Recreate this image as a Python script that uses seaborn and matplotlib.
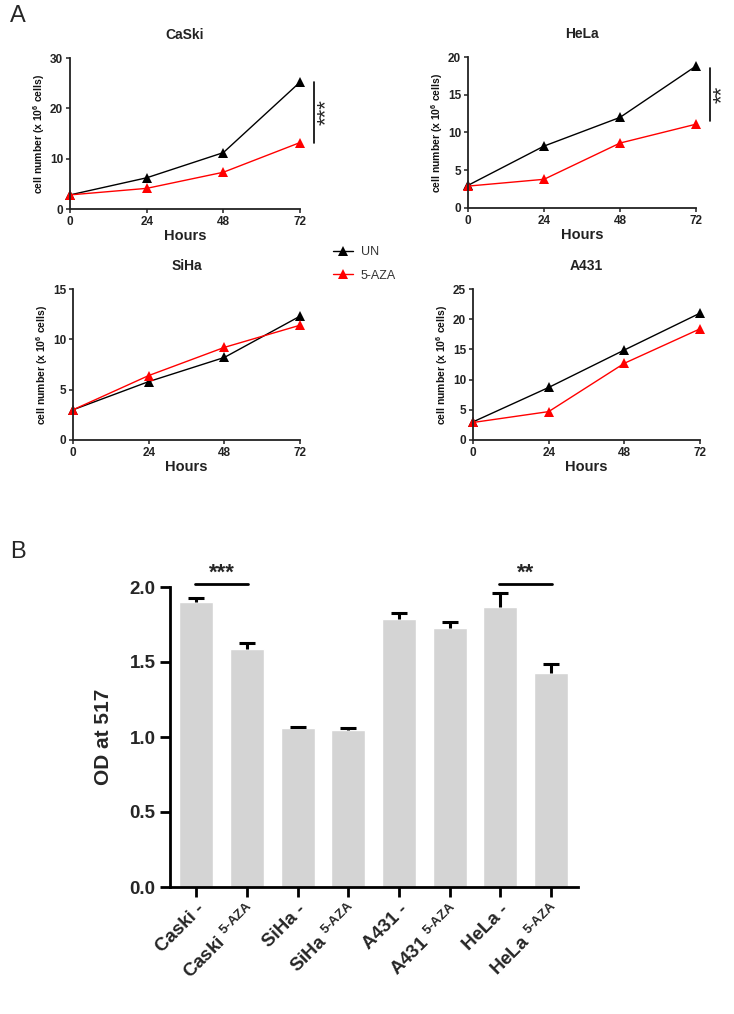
import numpy as np
import pandas as pd
import matplotlib
matplotlib.use("Agg")
import matplotlib.pyplot as plt
import seaborn as sns
from matplotlib.lines import Line2D

sns.set_theme(style="ticks")
plt.rcParams['font.family'] = ['Liberation Sans', 'DejaVu Sans']
plt.rcParams['mathtext.fontset'] = 'custom'
plt.rcParams['mathtext.rm'] = 'Liberation Sans:bold'
plt.rcParams['mathtext.bf'] = 'Liberation Sans:bold'
plt.rcParams['mathtext.default'] = 'bf'

# ---------------- data ----------------
hours = [0, 24, 48, 72]
groups = ["UN", "5-AZA"]

caski_un = [2.8, 6.2, 11.2, 25.2]
caski_aza = [2.8, 4.1, 7.3, 13.2]
hela_un = [3.0, 8.2, 12.0, 18.8]
hela_aza = [2.9, 3.8, 8.6, 11.1]
siha_un = [3.0, 5.8, 8.2, 12.3]
siha_aza = [3.0, 6.4, 9.2, 11.4]
a431_un = [3.0, 8.7, 14.9, 21.0]
a431_aza = [2.9, 4.7, 12.7, 18.4]

bar_labels = ["Caski -", "Caski 5-AZA", "SiHa -", "SiHa 5-AZA",
              "A431 -", "A431 5-AZA", "HeLa -", "HeLa 5-AZA"]
bar_values = [1.90, 1.59, 1.06, 1.05, 1.79, 1.73, 1.87, 1.43]
bar_err = [0.03, 0.04, 0.01, 0.01, 0.04, 0.04, 0.09, 0.06]

# ---------------- figure ----------------
W, H = 734, 1014
fig = plt.figure(figsize=(W / 100, H / 100), dpi=100)


def rect(l, r, t, b):
    return [l / W, 1 - b / H, (r - l) / W, (b - t) / H]


palette = {"UN": "black", "5-AZA": "#ff0000"}


def line_panel(box, title, un, aza, ymax, ystep, sig=None):
    ax = fig.add_axes(rect(*box))
    df = pd.DataFrame({
        "Hours": hours * 2,
        "cells": un + aza,
        "group": [groups[0]] * 4 + [groups[1]] * 4,
    })
    sns.lineplot(data=df, x="Hours", y="cells", hue="group", palette=palette,
                 marker="^", markersize=6.5, markeredgewidth=0, linewidth=1.0,
                 ax=ax, legend=False, clip_on=False)
    ax.set_xlim(0, 72)
    ax.set_ylim(0, ymax)
    ax.set_xticks(hours)
    ax.set_yticks(np.arange(0, ymax + 0.1, ystep))
    for s in ["top", "right"]:
        ax.spines[s].set_visible(False)
    for s in ["left", "bottom"]:
        ax.spines[s].set_linewidth(1.3)
        ax.spines[s].set_color("#222222")
    ax.tick_params(length=3, width=1.1, labelsize=8.5, pad=2, color="#222222",
                   labelcolor="#222222")
    for lab in ax.get_xticklabels() + ax.get_yticklabels():
        lab.set_fontweight("bold")
    ax.set_xlabel("Hours", fontsize=10.5, fontweight="bold", labelpad=1,
                  color="#222222")
    ax.set_ylabel(r"cell number (x 10$^{6}$ cells)", fontsize=7.5,
                  fontweight="bold", labelpad=2, color="#111111")
    ax.set_title(title, fontsize=10, fontweight="bold", pad=14,
                 color="#222222")
    if sig is not None:
        y0, y1, label = sig
        xl = 76.5
        ax.plot([xl, xl], [y0, y1], color="black", lw=1.2, clip_on=False)
        ax.annotate(label, xy=(xl, (y0 + y1) / 2), xytext=(9, 0),
                    textcoords="offset points", rotation=90, ha="center",
                    va="center", fontsize=16, annotation_clip=False)
    return ax


line_panel((70, 300, 58, 209), "CaSki", caski_un, caski_aza, 30, 10,
           sig=(13.2, 25.2, "***"))
line_panel((468, 696, 57, 208), "HeLa", hela_un, hela_aza, 20, 5,
           sig=(11.5, 18.5, "**"))
line_panel((73, 300, 289, 440), "SiHa", siha_un, siha_aza, 15, 5)
line_panel((473, 700, 289, 440), "A431", a431_un, a431_aza, 25, 5)

handles = [Line2D([0], [0], color=palette[g], marker="^", markersize=6.5,
                  markeredgewidth=0, lw=1.0) for g in groups]
fig.legend(handles, groups, loc="center left",
           bbox_to_anchor=(322 / W, 1 - 264 / H), frameon=False,
           fontsize=9, handlelength=1.6, handletextpad=0.6, labelspacing=0.9,
           labelcolor="#333333")

fig.text(10 / W, 1 - 16 / H, "A", fontsize=17, va="center", ha="left")
fig.text(10 / W, 1 - 552 / H, "B", fontsize=17, va="center", ha="left")

# ---------------- bar chart ----------------
axb = fig.add_axes(rect(170, 578, 587, 887))
HYPH = "\u2010"
tick_text = []
for lab in bar_labels:
    base, trt = lab.rsplit(" ", 1)
    if trt == "-":
        tick_text.append(base + " -")
    else:
        tick_text.append(base + " $^{\\mathbf{" + trt.replace("-", HYPH) + "}}$")
dfb = pd.DataFrame({"label": tick_text, "od": bar_values})
sns.barplot(data=dfb, x="label", y="od", color="#d4d4d4", saturation=1,
            width=0.67, errorbar=None, ax=axb)
xs = np.arange(len(bar_values))
eb = axb.errorbar(xs, bar_values, yerr=[np.zeros(len(bar_err)), bar_err],
                  fmt="none", ecolor="black", elinewidth=2.2, capsize=6,
                  capthick=2.2, clip_on=False)
caps = eb[1]
if len(caps) == 2:
    caps[0].set_visible(False)
axb.set_xlim(-0.52, 7.53)
axb.set_ylim(0, 2.0)
axb.set_yticks(np.arange(0, 2.01, 0.5))
axb.set_yticklabels([f"{v:.1f}" for v in np.arange(0, 2.01, 0.5)])
for s in ["top", "right"]:
    axb.spines[s].set_visible(False)
for s in ["left", "bottom"]:
    axb.spines[s].set_linewidth(2.0)
    axb.spines[s].set_color("black")
axb.tick_params(axis="both", length=7, width=2.0, labelsize=13.5, color="black")
axb.tick_params(axis="x", pad=3)
for lab in axb.get_yticklabels():
    lab.set_fontweight("bold")
for lab in axb.get_xticklabels():
    lab.set_fontweight("bold")
    lab.set_rotation(45)
    lab.set_ha("right")
    lab.set_rotation_mode("anchor")
axb.set_xlabel("")
axb.set_ylabel("OD at 517", fontsize=15, fontweight="bold", labelpad=12)

for (x0, x1, label) in [(0, 1, "***"), (6, 7, "**")]:
    ysig = 2.02
    axb.plot([x0 - 0.02, x1 + 0.02], [ysig, ysig], color="black", lw=2.0,
             clip_on=False)
    axb.text((x0 + x1) / 2, ysig + 0.005, label, ha="center", va="bottom",
             fontsize=16, fontweight="bold", clip_on=False)

fig.savefig("out.png", dpi=100)
